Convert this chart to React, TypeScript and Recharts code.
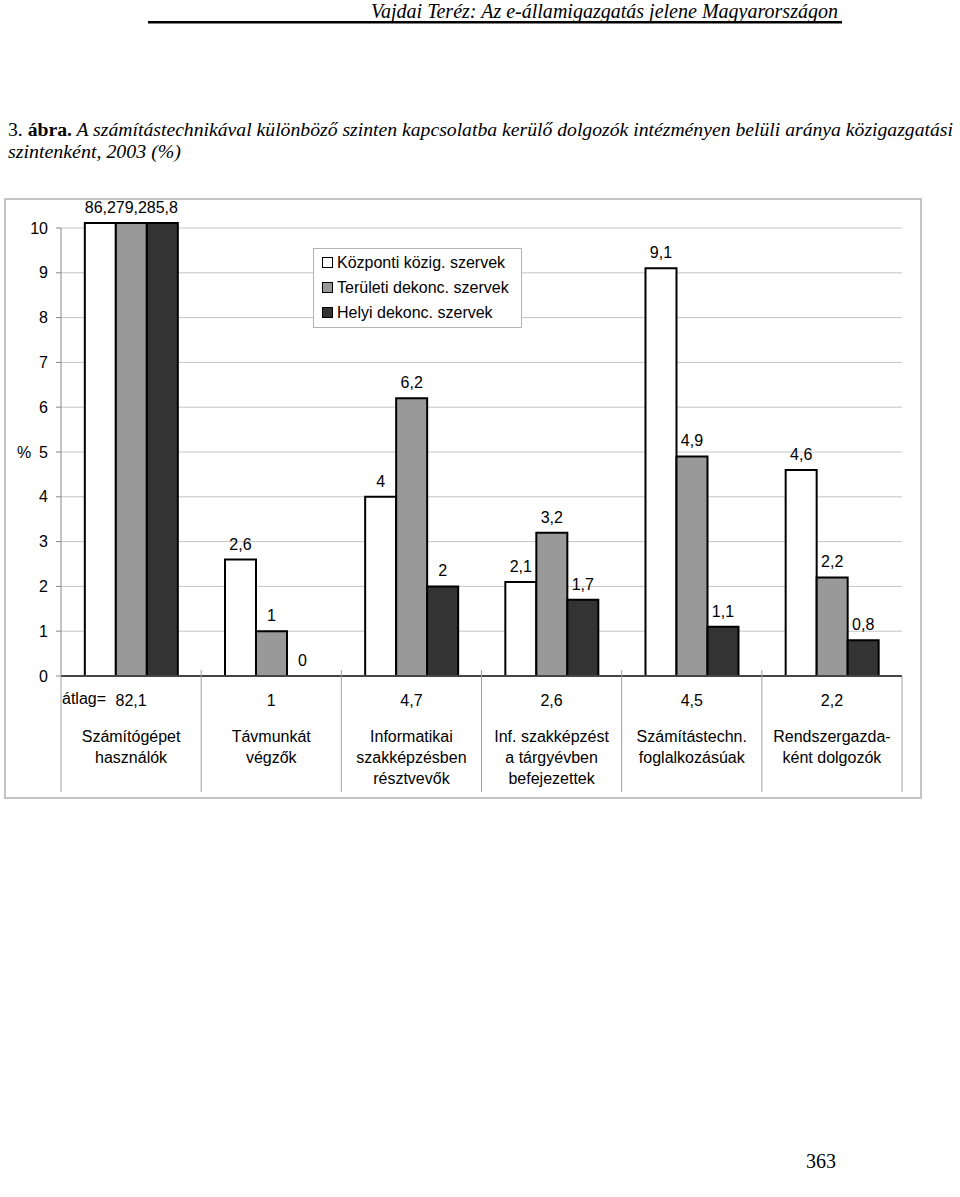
import React from 'react';
import {
  BarChart,
  Bar,
  XAxis,
  YAxis,
  CartesianGrid,
  Legend,
  LabelList,
  Rectangle,
} from 'recharts';

// kategóriák (sortöréssel, ahogy az ábrán)
const categoryLabels: string[][] = [
  ['Számítógépet', 'használók'],
  ['Távmunkát', 'végzők'],
  ['Informatikai', 'szakképzésben', 'résztvevők'],
  ['Inf. szakképzést', 'a tárgyévben', 'befejezettek'],
  ['Számítástechn.', 'foglalkozásúak'],
  ['Rendszergazda-', 'ként dolgozók'],
];

// szintenkénti arányok (%)
const kozponti = [86.2, 2.6, 4, 2.1, 9.1, 4.6];
const teruleti = [79.2, 1, 6.2, 3.2, 4.9, 2.2];
const helyi = [85.8, 0, 2, 1.7, 1.1, 0.8];

// átlagok a tengely alatt
const averages = [82.1, 1, 4.7, 2.6, 4.5, 2.2];

const seriesNames = ['Központi közig. szervek', 'Területi dekonc. szervek', 'Helyi dekonc. szervek'];

const yTicks = [0, 1, 2, 3, 4, 5, 6, 7, 8, 9, 10];
const Y_MAX = 10;
const OVERFLOW = 5; // a tengely fölé kilógó oszlopok
const FONT = '"Liberation Sans", Arial, sans-serif';
const SERIF = '"Liberation Serif", "Times New Roman", serif';

const data = categoryLabels.map((lines, i) => ({
  name: lines.join(' '),
  kozponti: kozponti[i],
  teruleti: teruleti[i],
  helyi: helyi[i],
}));

const fmt = (v: number) => String(v).replace('.', ',');

// oszlop, ami a 10-es határ fölött kicsit kilóg
const overflowBar = (key: string) => (props: any) => {
  const { x, y, width, height, fill, payload } = props;
  const over = payload && payload[key] > Y_MAX;
  return (
    <Rectangle
      x={x}
      y={over ? y - OVERFLOW : y}
      width={width}
      height={over ? height + OVERFLOW : height}
      fill={fill}
      stroke="#000"
      strokeWidth={2}
    />
  );
};

const valueLabel = (props: any) => {
  const vb = props.viewBox || props;
  const { x, y, width } = vb;
  const v = Number(props.value);
  const top = v > Y_MAX ? y - OVERFLOW : y;
  return (
    <text
      x={x + width / 2}
      y={top - 10}
      textAnchor="middle"
      fontSize={16}
      fontFamily={FONT}
      fill="#000"
    >
      {fmt(v)}
    </text>
  );
};

// kategória tengely: átlag, felirat és elválasztó vonalak
const CategoryTick = (props: any) => {
  const { x, y, payload } = props;
  const i = payload.index;
  const half = payload.offset ?? 0;
  const lines = categoryLabels[i] || [];
  const last = i === categoryLabels.length - 1;
  return (
    <g>
      <line x1={x - half} x2={x - half} y1={i === 0 ? y : y - 6} y2={y + 116} stroke="#a0a0a0" />
      {last && <line x1={x + half} x2={x + half} y1={y} y2={y + 116} stroke="#a0a0a0" />}
      {i === 0 && (
        <text x={x - half + 1} y={y + 28} fontSize={16} fontFamily={FONT} fill="#000">
          átlag=
        </text>
      )}
      <text x={x} y={y + 30} textAnchor="middle" fontSize={16} fontFamily={FONT} fill="#000">
        {fmt(averages[i])}
      </text>
      {lines.map((l, k) => (
        <text
          key={k}
          x={x}
          y={y + 66 + k * 21}
          textAnchor="middle"
          fontSize={16}
          fontFamily={FONT}
          fill="#000"
        >
          {l}
        </text>
      ))}
    </g>
  );
};

const LegendBox = (props: any) => {
  const items = [...(props.payload || [])].sort(
    (a: any, b: any) => seriesNames.indexOf(a.value) - seriesNames.indexOf(b.value)
  );
  return (
    <div
      style={{
        display: 'inline-block',
        border: '1px solid #b4b4b4',
        background: '#fff',
        padding: '1px 12px 2px 8px',
        fontFamily: FONT,
        fontSize: 16,
        lineHeight: '25px',
        color: '#000',
        whiteSpace: 'nowrap',
      }}
    >
      {items.map((entry: any) => (
        <div key={entry.value} style={{ display: 'flex', alignItems: 'center' }}>
          <span
            style={{
              display: 'inline-block',
              width: 11,
              height: 11,
              boxSizing: 'border-box',
              border: '1.5px solid #000',
              background: entry.color,
              marginRight: 4,
            }}
          />
          <span>{entry.value}</span>
        </div>
      ))}
    </div>
  );
};

export default function App() {
  return (
    <div
      style={{
        position: 'absolute',
        left: 0,
        top: 0,
        width: 960,
        height: 1197,
        background: '#fff',
        overflow: 'hidden',
      }}
    >
      {/* oldal szövegei */}
      <svg width={960} height={1197} style={{ position: 'absolute', left: 0, top: 0 }}>
        <text
          x={371}
          y={18}
          fontFamily={SERIF}
          fontStyle="italic"
          fontSize={20}
          textLength={467}
          lengthAdjust="spacingAndGlyphs"
          fill="#000"
        >
          Vajdai Teréz: Az e-államigazgatás jelene Magyarországon
        </text>
        <rect x={148} y={21} width={694} height={2.5} fill="#000" />
        <text
          x={8}
          y={136}
          fontFamily={SERIF}
          fontSize={18}
          textLength={945}
          lengthAdjust="spacingAndGlyphs"
          fill="#000"
        >
          <tspan>3. </tspan>
          <tspan fontWeight="bold">ábra.</tspan>
          <tspan fontStyle="italic">
            {' '}A számítástechnikával különböző szinten kapcsolatba kerülő dolgozók intézményen belüli aránya közigazgatási
          </tspan>
        </text>
        <text
          x={8}
          y={158}
          fontFamily={SERIF}
          fontStyle="italic"
          fontSize={19}
          textLength={173}
          lengthAdjust="spacingAndGlyphs"
          fill="#000"
        >
          szintenként, 2003 (%)
        </text>
        <text x={821} y={1168} textAnchor="middle" fontFamily={SERIF} fontSize={20} fill="#000">
          363
        </text>
      </svg>

      {/* diagram kerete */}
      <div
        style={{
          position: 'absolute',
          left: 4,
          top: 198,
          width: 918,
          height: 601,
          border: '2px solid #c4c4c4',
          boxSizing: 'border-box',
        }}
      />

      <div style={{ position: 'absolute', left: 0, top: 190, width: 920, height: 610 }}>
        <BarChart
          width={920}
          height={610}
          data={data}
          margin={{ top: 38, right: 18, bottom: 8, left: 11 }}
          barCategoryGap="17%"
          barGap={0}
        >
          <CartesianGrid yAxisId="left" vertical={false} stroke="#c4c4c4" />
          <XAxis
            dataKey="name"
            interval={0}
            height={116}
            tickSize={0}
            tickMargin={0}
            tickLine={false}
            axisLine={{ stroke: '#444', strokeWidth: 2 }}
            tick={<CategoryTick />}
          />
          <YAxis
            yAxisId="left"
            width={50}
            domain={[0, Y_MAX]}
            ticks={yTicks}
            interval={0}
            tickSize={5}
            tickMargin={8}
            tick={{ fill: '#000', fontSize: 16, fontFamily: FONT }}
            tickLine={{ stroke: '#888' }}
            axisLine={{ stroke: '#888' }}
            label={{
              value: '%',
              position: 'insideLeft',
              offset: 6,
              fill: '#000',
              fontSize: 16,
              fontFamily: FONT,
            }}
          />
          <YAxis
            yAxisId="right"
            orientation="right"
            width={0}
            domain={[0, Y_MAX]}
            tick={false}
            tickLine={false}
            axisLine={{ stroke: '#999' }}
          />
          <Legend
            layout="horizontal"
            verticalAlign="middle"
            align="center"
            content={<LegendBox />}
            wrapperStyle={{ left: 313, top: 58, width: 'auto', height: 'auto' }}
          />
          <Bar
            yAxisId="left"
            name={seriesNames[0]}
            dataKey={(d: any) => Math.min(d.kozponti, Y_MAX)}
            fill="#ffffff"
            shape={overflowBar('kozponti')}
            isAnimationActive={false}
          >
            <LabelList dataKey="kozponti" content={valueLabel} />
          </Bar>
          <Bar
            yAxisId="left"
            name={seriesNames[1]}
            dataKey={(d: any) => Math.min(d.teruleti, Y_MAX)}
            fill="#999999"
            shape={overflowBar('teruleti')}
            isAnimationActive={false}
          >
            <LabelList dataKey="teruleti" content={valueLabel} />
          </Bar>
          <Bar
            yAxisId="left"
            name={seriesNames[2]}
            dataKey={(d: any) => Math.min(d.helyi, Y_MAX)}
            fill="#333333"
            shape={overflowBar('helyi')}
            isAnimationActive={false}
          >
            <LabelList dataKey="helyi" content={valueLabel} />
          </Bar>
        </BarChart>
      </div>
    </div>
  );
}
